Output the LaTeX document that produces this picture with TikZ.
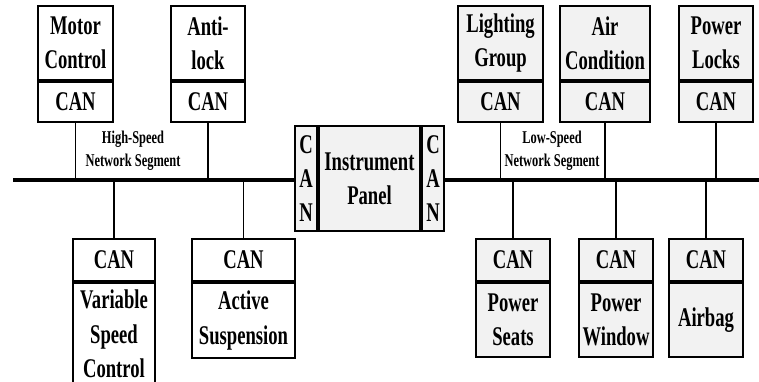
\documentclass[tikz,border=0pt]{standalone}
\usepackage{fontspec}
\setmainfont{Liberation Serif}[FakeStretch=0.69]
\usepackage{tikz}
\definecolor{panelgray}{RGB}{242,242,242}
\tikzset{
  part/.style={draw,line width=1pt,inner sep=0pt,align=center,font=\fontsize{13.5}{17.2}\selectfont\bfseries},
  tap/.style={line width=0.75pt},
  bus/.style={line width=2pt},
  seg/.style={align=center,font=\fontsize{9}{11.5}\selectfont\bfseries,inner sep=1pt}
}
\begin{document}
\begin{tikzpicture}[x=0.5pt,y=-0.5pt]
\useasboundingbox (0,0) rectangle (759,381);
% upper modules
\foreach \n/\l/\r/\c/\t in {mc/37/112/white/Motor\\Control,al/170/244/white/Anti-\\lock,lg/457/542/panelgray/Lighting\\Group,ac/559/649/panelgray/Air\\Condition,pl/678/752/panelgray/Power\\Locks}{
  \node[part,fill=\c,anchor=north west,minimum width={(\r-\l)*0.5pt},minimum height=37pt] (\n) at (\l,5) {\t};
  \node[part,fill=\c,anchor=north,minimum width={(\r-\l)*0.5pt},minimum height=20pt] (\n-can) at (\n.south) {CAN};
}
% lower modules
\foreach \n/\l/\r/\h/\c/\t in {vs/72/154/51/white/Variable\\Speed\\Control,as/191/294/37.5/white/Active\\Suspension,ps/475/549/37/panelgray/Power\\Seats,pw/578/652/37/panelgray/Power\\Window,ab/668/742/37/panelgray/Airbag}{
  \node[part,fill=\c,anchor=north west,minimum width={(\r-\l)*0.5pt},minimum height=21pt] (\n-can) at (\l,238) {CAN};
  \node[part,fill=\c,anchor=north,minimum width={(\r-\l)*0.5pt},minimum height=\h pt] (\n) at (\n-can.south) {\t};
}
% instrument panel
\node[part,fill=panelgray,minimum width=50.5pt,minimum height=52.5pt] (ip) at (369.5,178.5) {Instrument\\Panel};
\node[part,fill=panelgray,anchor=east,minimum width=11pt,minimum height=52.5pt] (ip-l) at (ip.west) {C\\A\\N};
\node[part,fill=panelgray,anchor=west,minimum width=11pt,minimum height=52.5pt] (ip-r) at (ip.east) {C\\A\\N};
% bus
\coordinate (bus-w) at (13,180);
\coordinate (bus-e) at (759,180);
\draw[bus] (bus-w) -- (ip-l.west |- bus-w);
\draw[bus] (ip-r.east |- bus-e) -- (bus-e);
\foreach \n in {mc,al,lg,ac,pl} \draw[tap] (\n-can.south) -- (\n-can.south |- bus-w);
\foreach \n in {vs,as,ps,pw,ab} \draw[tap] (\n-can.north) -- (\n-can.north |- bus-w);
\node[seg] (hs) at (133,151) {High-Speed\\Network Segment};
\node[seg] (ls) at (552,151) {Low-Speed\\Network Segment};
\end{tikzpicture}
\end{document}
